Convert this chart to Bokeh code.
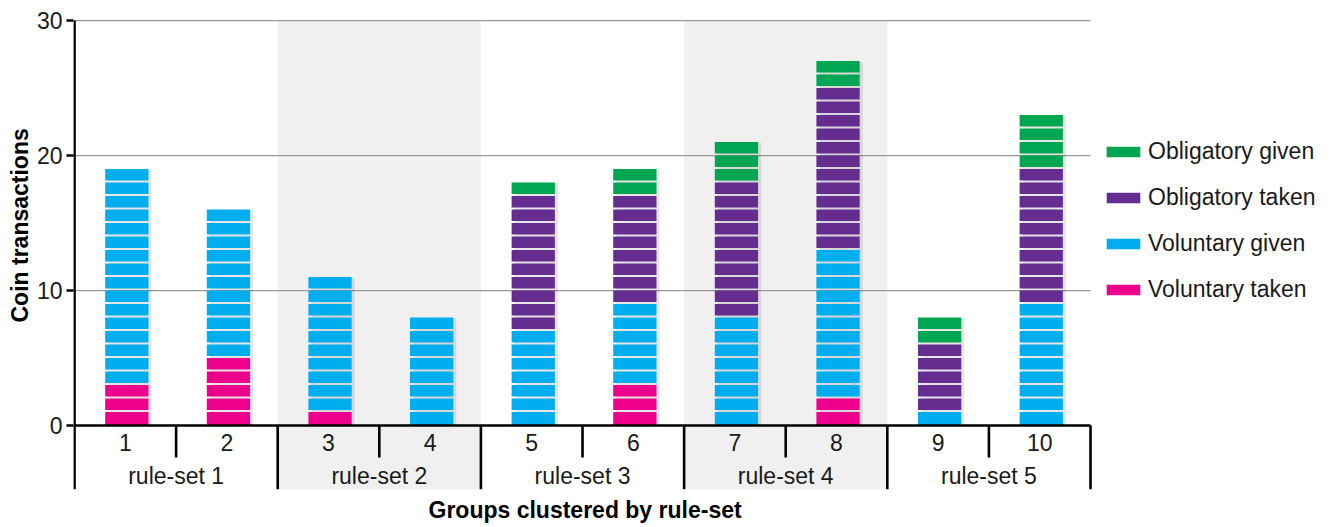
from bokeh.plotting import figure
from bokeh.models import ColumnDataSource, FixedTicker, Range1d, Legend, LegendItem, Title
from bokeh.core.properties import value
from bokeh.embed import file_html
from bokeh.resources import INLINE

# ---------------- data ----------------
groups = ["1", "2", "3", "4", "5", "6", "7", "8", "9", "10"]
rule_sets = ["rule-set 1", "rule-set 2", "rule-set 3", "rule-set 4", "rule-set 5"]
group_rule_set = [0, 0, 1, 1, 2, 2, 3, 3, 4, 4]

series_names = ["Voluntary taken", "Voluntary given", "Obligatory taken", "Obligatory given"]
voluntary_taken = [3, 5, 1, 0, 0, 3, 0, 2, 0, 0]
voluntary_given = [16, 11, 10, 8, 7, 6, 8, 11, 1, 9]
obligatory_taken = [0, 0, 0, 0, 10, 8, 10, 12, 5, 10]
obligatory_given = [0, 0, 0, 0, 1, 2, 3, 2, 2, 4]
series_values = [voluntary_taken, voluntary_given, obligatory_taken, obligatory_given]
series_colors = ["#ec008c", "#00aeef", "#662d91", "#00a651"]

y_ticks = [0, 10, 20, 30]
grid_ticks = [10, 20, 30]

# ---------------- style ----------------
FONT = "Liberation Sans"
FS = "23px"
TXT = "#1a1a1a"
PX_PER_UNIT = 13.5      # vertical px per coin
PX_PER_GROUP = 101.6    # horizontal px per group
FRAME_W = 1258
X_START = -0.01
X_END = X_START + FRAME_W / PX_PER_GROUP
Y_BOTTOM = -64 / PX_PER_UNIT
Y_TOP = 30.08
FRAME_H = 470
BAR_W = 0.426
BAR_SHIFT = 0.515
GAP = 0.15
BAND_COLOR = "#f0f0f0"

n = len(groups)
y_max = max(y_ticks)

p = figure(
    frame_width=FRAME_W, frame_height=FRAME_H,
    x_range=Range1d(X_START, X_END), y_range=Range1d(Y_BOTTOM, Y_TOP),
    output_backend="svg", toolbar_location=None,
    min_border_left=73, min_border_right=0,
    min_border_top=19, min_border_bottom=37,
)
p.outline_line_color = None
p.background_fill_color = "white"
p.border_fill_color = "white"
p.xgrid.visible = False
p.ygrid.visible = False

# shaded rule-set bands (every second rule-set)
band_left, band_right = [], []
for r in range(len(rule_sets)):
    idx = [i for i in range(n) if group_rule_set[i] == r]
    if r % 2 == 1:
        band_left.append(min(idx))
        band_right.append(max(idx) + 1)
p.quad(left=band_left, right=band_right, bottom=Y_BOTTOM, top=y_max,
       fill_color=BAND_COLOR, line_color=None)

# horizontal grid lines over the plotting area only
p.segment(x0=0, x1=n, y0=grid_ticks, y1=grid_ticks, line_color="#9a9a9a", line_width=1.3)

# shadows
totals = [sum(s[i] for s in series_values) for i in range(n)]
p.vbar(x=[i + BAR_SHIFT + 0.03 for i in range(n)], width=BAR_W, bottom=0,
       top=[t - 0.05 for t in totals], fill_color="black", fill_alpha=0.10, line_color=None)

# stacked unit blocks
renderers = []
cum = [0] * n
for name, vals, col in zip(series_names, series_values, series_colors):
    xs, bots, tops = [], [], []
    for i in range(n):
        for k in range(vals[i]):
            lvl = cum[i] + k
            xs.append(i + BAR_SHIFT)
            bots.append(lvl + (GAP if lvl > 0 else 0))
            tops.append(lvl + 1)
        cum[i] += vals[i]
    src = ColumnDataSource(dict(x=xs, bottom=bots, top=tops))
    r = p.vbar(x="x", bottom="bottom", top="top", width=BAR_W, source=src,
               fill_color=col, line_color=None)
    renderers.append((name, r))

# axis lines and category table
p.segment(x0=[0], y0=[0], x1=[n], y1=[0], line_color="black", line_width=2.6)
p.segment(x0=[0], y0=[Y_BOTTOM], x1=[0], y1=[y_max], line_color="black", line_width=2.6)
short_x, long_x = [], []
for i in range(1, n + 1):
    if i == n or group_rule_set[i] != group_rule_set[i - 1]:
        long_x.append(i)
    else:
        short_x.append(i)
p.segment(x0=long_x, y0=0, x1=long_x, y1=Y_BOTTOM, line_color="black", line_width=2.6)
p.segment(x0=short_x, y0=0, x1=short_x, y1=-32 / PX_PER_UNIT, line_color="black", line_width=2.6)

# category labels
p.text(x=[i + 0.5 for i in range(n)], y=-17 / PX_PER_UNIT, text=groups,
       text_font=value(FONT), text_font_size=FS, text_align="center",
       text_baseline="alphabetic", text_color=TXT)
rs_x = []
for r in range(len(rule_sets)):
    idx = [i for i in range(n) if group_rule_set[i] == r]
    rs_x.append((min(idx) + max(idx) + 1) / 2)
p.text(x=rs_x, y=-50 / PX_PER_UNIT, text=rule_sets,
       text_font=value(FONT), text_font_size=FS, text_align="center",
       text_baseline="alphabetic", text_color=TXT)

# y axis (ticks and labels)
ya = p.yaxis[0]
ya.ticker = FixedTicker(ticks=y_ticks)
ya.axis_line_color = None
ya.major_tick_in = 0
ya.major_tick_out = 7
ya.major_tick_line_width = 2.6
ya.major_tick_line_color = "black"
ya.minor_tick_line_color = None
ya.major_label_text_font = FONT
ya.major_label_text_font_size = FS
ya.major_label_text_color = TXT
ya.major_label_standoff = 4

# x axis hidden (labels drawn in the category table)
p.xaxis.visible = False

# axis titles
p.add_layout(Title(text="Coin transactions", align="left", offset=167, standoff=2,
                   text_font=FONT, text_font_size=FS, text_font_style="bold",
                   text_color="black"), "left")
p.add_layout(Title(text="Groups clustered by rule-set", align="left", offset=355, standoff=10,
                   text_font=FONT, text_font_size=FS, text_font_style="bold",
                   text_color="black"), "below")

# legend
items = [LegendItem(label=name, renderers=[r]) for name, r in reversed(renderers)]
legend = Legend(items=items, location=(1029, 186), orientation="vertical",
                glyph_width=42, glyph_height=13, label_standoff=4,
                label_text_font=FONT, label_text_font_size=FS, label_text_color=TXT,
                label_height=26, spacing=19, padding=0, margin=0,
                border_line_color=None, background_fill_alpha=0)
p.add_layout(legend)

open("out.html", "w").write(file_html(p, INLINE))
